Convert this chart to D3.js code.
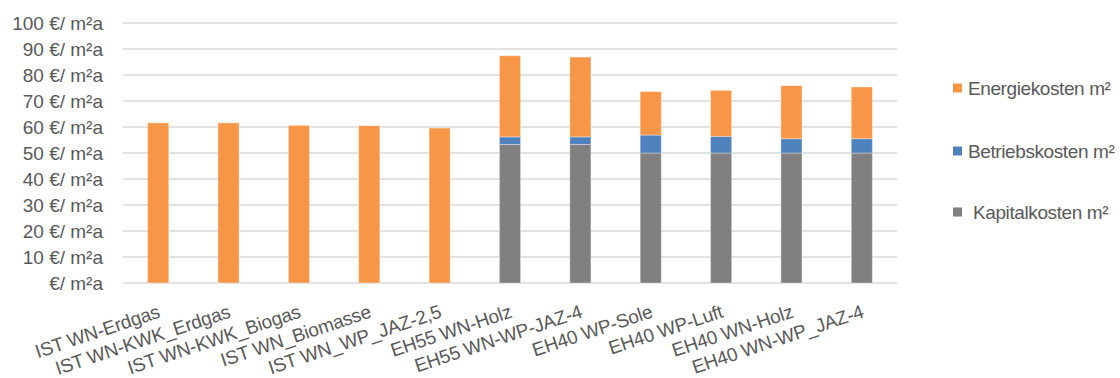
<!DOCTYPE html>
<html>
<head>
<meta charset="utf-8">
<script src="https://cdn.jsdelivr.net/npm/d3@7/dist/d3.min.js"></script>
<style>
  html, body { margin: 0; padding: 0; background: #fff; }
  svg { display: block; font-family: "Liberation Sans", Arial, sans-serif; }
</style>
</head>
<body>
<svg id="chart" width="1120" height="378"></svg>
<script>
// Kostenvergleich der Varianten (€/m²a)
const categories = [
  "IST WN-Erdgas", "IST WN-KWK_Erdgas", "IST WN-KWK_Biogas", "IST WN_Biomasse",
  "IST WN_WP_JAZ-2,5", "EH55 WN-Holz", "EH55 WN-WP-JAZ-4", "EH40 WP-Sole",
  "EH40 WP-Luft", "EH40 WN-Holz", "EH40 WN-WP_JAZ-4"
];
const kapitalkosten = [0, 0, 0, 0, 0, 53.3, 53.3, 50.0, 50.0, 50.0, 50.0];
const betriebskosten = [0, 0, 0, 0, 0, 2.9, 2.9, 6.9, 6.4, 5.5, 5.5];
const energiekosten = [61.6, 61.6, 60.6, 60.5, 59.6, 31.2, 30.7, 16.7, 17.7, 20.4, 19.9];
const seriesNames = ["Kapitalkosten m²", "Betriebskosten m²", "Energiekosten m²"];
const seriesColors = ["#808080", "#4F81BD", "#F79646"];
const yTicks = [0, 10, 20, 30, 40, 50, 60, 70, 80, 90, 100];
const yTickLabel = v => (v === 0 ? "" : v + " ") + "€/ m²a";

const svg = d3.select("#chart");
const plot = { left: 123, right: 897, top: 23, bottom: 283 };
const textColor = "#595959";

const rows = categories.map((c, i) => ({
  cat: c,
  "Kapitalkosten m²": kapitalkosten[i],
  "Betriebskosten m²": betriebskosten[i],
  "Energiekosten m²": energiekosten[i]
}));

const x = d3.scaleBand()
  .domain(categories)
  .range([plot.left, plot.right])
  .paddingInner(0.7)
  .paddingOuter(0.35);

const y = d3.scaleLinear().domain([0, 100]).range([plot.bottom, plot.top]);

// Gridlines
svg.append("g")
  .selectAll("line")
  .data(yTicks)
  .join("line")
  .attr("x1", plot.left).attr("x2", plot.right)
  .attr("y1", d => y(d)).attr("y2", d => y(d))
  .attr("stroke", "#D9D9D9")
  .attr("stroke-width", 1.4);

// Y axis labels
const yAxis = d3.axisLeft(y).tickValues(yTicks).tickFormat(yTickLabel).tickSize(0).tickPadding(20);
const gy = svg.append("g").attr("transform", `translate(${plot.left},0)`).call(yAxis);
gy.select(".domain").remove();
gy.selectAll("text")
  .attr("fill", textColor)
  .style("font-size", "19px")
  .style("font-family", "'Liberation Sans', Arial, sans-serif");

// Stacked bars
const stack = d3.stack().keys(seriesNames);
const stacked = stack(rows);
svg.append("g")
  .selectAll("g")
  .data(stacked)
  .join("g")
  .attr("fill", (d, i) => seriesColors[i])
  .selectAll("rect")
  .data(d => d.filter(p => p[1] - p[0] > 0))
  .join("rect")
  .attr("x", d => x(d.data.cat))
  .attr("width", x.bandwidth())
  .attr("y", d => y(d[1]))
  .attr("height", d => y(d[0]) - y(d[1]))
  .attr("stroke", "#ffffff")
  .attr("stroke-opacity", 0.35)
  .attr("stroke-width", 1);

// X axis category labels (rotated)
const xAxis = d3.axisBottom(x).tickSize(0).tickPadding(0);
const gx = svg.append("g").attr("transform", `translate(0,${plot.bottom})`).call(xAxis);
gx.select(".domain").remove();
gx.selectAll(".tick text")
  .attr("fill", textColor)
  .style("font-size", "19px")
  .style("font-family", "'Liberation Sans', Arial, sans-serif")
  .style("letter-spacing", "-0.2px")
  .attr("text-anchor", "end")
  .attr("dy", null)
  .attr("y", 0)
  .attr("transform", "translate(3,34) rotate(-18.5)");

// Legend (reverse stack order, top to bottom)
const legendItems = [
  { name: "Energiekosten m²", color: seriesColors[2], cy: 88, tx: 968 },
  { name: "Betriebskosten m²", color: seriesColors[1], cy: 151, tx: 968 },
  { name: "Kapitalkosten m²", color: seriesColors[0], cy: 212, tx: 973 }
];
const lg = svg.append("g");
const li = lg.selectAll("g").data(legendItems).join("g");
li.append("rect")
  .attr("x", 953).attr("y", d => d.cy - 4.5)
  .attr("width", 9).attr("height", 9)
  .attr("fill", d => d.color);
li.append("text")
  .attr("x", d => d.tx).attr("y", d => d.cy)
  .attr("dy", "0.35em")
  .attr("fill", textColor)
  .style("font-size", "19px")
  .style("letter-spacing", "-0.4px")
  .text(d => d.name);
</script>
</body>
</html>
